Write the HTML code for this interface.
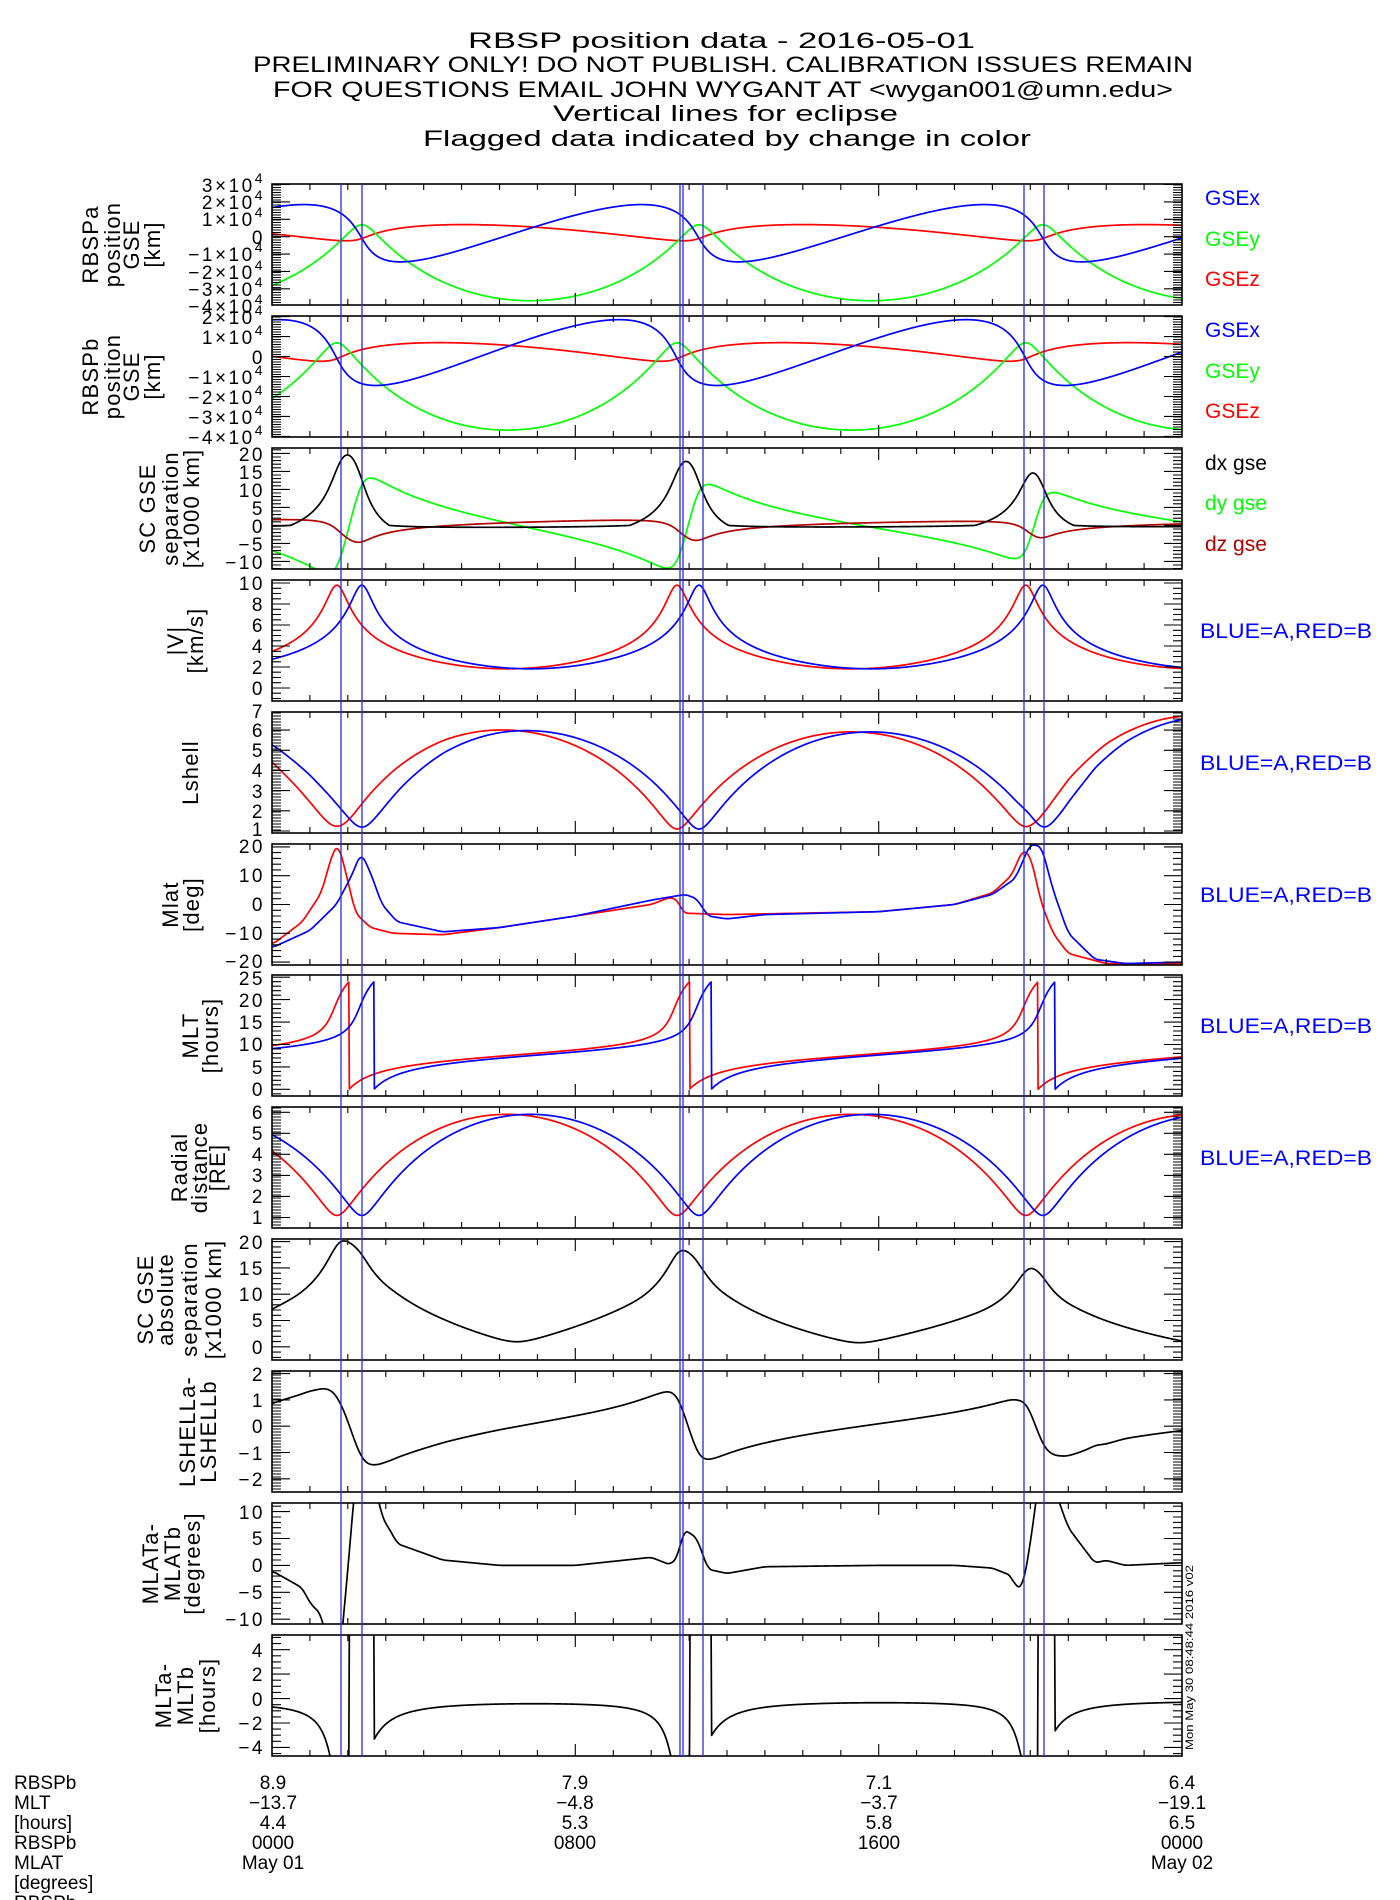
<!DOCTYPE html>
<html><head><meta charset="utf-8">
<style>
html,body{margin:0;padding:0;background:#fff;}
svg{display:block;}
text{font-family:"Liberation Sans",sans-serif;fill:#000;}
.t{font-size:22px;}
.tl{font-size:19px;letter-spacing:2.5px;}
.yl{font-size:22px;letter-spacing:1.2px;}
.rl{font-size:21px;}
.bt{font-size:19px;}
</style></head><body>
<svg id="plot" xmlns="http://www.w3.org/2000/svg" width="1400" height="1900" viewBox="0 0 1400 1900">
<rect x="0" y="0" width="1400" height="1900" fill="#fff"/>
<text class="t" x="468" y="48" textLength="507" lengthAdjust="spacingAndGlyphs">RBSP position data - 2016-05-01</text>
<text class="t" x="253" y="72" textLength="940" lengthAdjust="spacingAndGlyphs">PRELIMINARY ONLY! DO NOT PUBLISH. CALIBRATION ISSUES REMAIN</text>
<text class="t" x="273" y="97" textLength="900" lengthAdjust="spacingAndGlyphs">FOR QUESTIONS EMAIL JOHN WYGANT AT &lt;wygan001@umn.edu&gt;</text>
<text class="t" x="553" y="121" textLength="345" lengthAdjust="spacingAndGlyphs">Vertical lines for eclipse</text>
<text class="t" x="423" y="146" textLength="608" lengthAdjust="spacingAndGlyphs">Flagged data indicated by change in color</text>

<g id="panels"></g>
<g id="ticks"></g>

<g class="tl" text-anchor="end">
<text x="265" y="192">3×10<tspan dy="-9" font-size="14">4</tspan></text>
<text x="265" y="209">2×10<tspan dy="-9" font-size="14">4</tspan></text>
<text x="265" y="226">1×10<tspan dy="-9" font-size="14">4</tspan></text>
<text x="265" y="244">0</text>
<text x="265" y="261">−1×10<tspan dy="-9" font-size="14">4</tspan></text>
<text x="265" y="279">−2×10<tspan dy="-9" font-size="14">4</tspan></text>
<text x="265" y="296">−3×10<tspan dy="-9" font-size="14">4</tspan></text>
<text x="265" y="313">−4×10<tspan dy="-9" font-size="14">4</tspan></text>

<text x="265" y="324">2×10<tspan dy="-9" font-size="14">4</tspan></text>
<text x="265" y="344">1×10<tspan dy="-9" font-size="14">4</tspan></text>
<text x="265" y="364">0</text>
<text x="265" y="384">−1×10<tspan dy="-9" font-size="14">4</tspan></text>
<text x="265" y="404">−2×10<tspan dy="-9" font-size="14">4</tspan></text>
<text x="265" y="424">−3×10<tspan dy="-9" font-size="14">4</tspan></text>
<text x="265" y="444">−4×10<tspan dy="-9" font-size="14">4</tspan></text>

<text x="265" y="461">20</text>
<text x="265" y="479">15</text>
<text x="265" y="497">10</text>
<text x="265" y="515">5</text>
<text x="265" y="533">0</text>
<text x="265" y="551">−5</text>
<text x="265" y="569">−10</text>

<text x="265" y="590">10</text>
<text x="265" y="611">8</text>
<text x="265" y="632">6</text>
<text x="265" y="653">4</text>
<text x="265" y="674">2</text>
<text x="265" y="695">0</text>

<text x="265" y="718">7</text>
<text x="265" y="737">6</text>
<text x="265" y="757">5</text>
<text x="265" y="777">4</text>
<text x="265" y="798">3</text>
<text x="265" y="818">2</text>
<text x="265" y="836">1</text>

<text x="265" y="853">20</text>
<text x="265" y="882">10</text>
<text x="265" y="911">0</text>
<text x="265" y="940">−10</text>
<text x="265" y="968">−20</text>

<text x="265" y="985">25</text>
<text x="265" y="1007">20</text>
<text x="265" y="1029">15</text>
<text x="265" y="1051">10</text>
<text x="265" y="1074">5</text>
<text x="265" y="1096">0</text>

<text x="265" y="1119">6</text>
<text x="265" y="1140">5</text>
<text x="265" y="1161">4</text>
<text x="265" y="1182">3</text>
<text x="265" y="1203">2</text>
<text x="265" y="1224">1</text>

<text x="265" y="1249">20</text>
<text x="265" y="1275">15</text>
<text x="265" y="1301">10</text>
<text x="265" y="1327">5</text>
<text x="265" y="1354">0</text>

<text x="265" y="1381">2</text>
<text x="265" y="1407">1</text>
<text x="265" y="1433">0</text>
<text x="265" y="1460">−1</text>
<text x="265" y="1486">−2</text>

<text x="265" y="1519">10</text>
<text x="265" y="1545">5</text>
<text x="265" y="1572">0</text>
<text x="265" y="1599">−5</text>
<text x="265" y="1626">−10</text>

<text x="265" y="1657">4</text>
<text x="265" y="1681">2</text>
<text x="265" y="1706">0</text>
<text x="265" y="1730">−2</text>
<text x="265" y="1754">−4</text>
</g>

<g class="yl" text-anchor="middle">
<text transform="translate(98,244.5) rotate(-90)">RBSPa</text>
<text transform="translate(120,244.5) rotate(-90)">position</text>
<text transform="translate(139,244.5) rotate(-90)">GSE</text>
<text transform="translate(160,244.5) rotate(-90)">[km]</text>

<text transform="translate(98,376.5) rotate(-90)">RBSPb</text>
<text transform="translate(120,376.5) rotate(-90)">position</text>
<text transform="translate(139,376.5) rotate(-90)">GSE</text>
<text transform="translate(160,376.5) rotate(-90)">[km]</text>

<text transform="translate(155,508.5) rotate(-90)">SC GSE</text>
<text transform="translate(178,508.5) rotate(-90)">separation</text>
<text transform="translate(199,508.5) rotate(-90)">[x1000 km]</text>

<text transform="translate(183,640.5) rotate(-90)">|V|</text>
<text transform="translate(203,640.5) rotate(-90)">[km/s]</text>

<text transform="translate(198,772.5) rotate(-90)">Lshell</text>

<text transform="translate(178,904.5) rotate(-90)">Mlat</text>
<text transform="translate(199,904.5) rotate(-90)">[deg]</text>

<text transform="translate(198,1035.5) rotate(-90)">MLT</text>
<text transform="translate(218,1035.5) rotate(-90)">[hours]</text>

<text transform="translate(187,1167.5) rotate(-90)">Radial</text>
<text transform="translate(207,1167.5) rotate(-90)">distance</text>
<text transform="translate(225,1167.5) rotate(-90)">[RE]</text>

<text transform="translate(153,1299.5) rotate(-90)">SC GSE</text>
<text transform="translate(173,1299.5) rotate(-90)">absolute</text>
<text transform="translate(197,1299.5) rotate(-90)">separation</text>
<text transform="translate(221,1299.5) rotate(-90)">[x1000 km]</text>

<text transform="translate(195,1431.5) rotate(-90)">LSHELLa-</text>
<text transform="translate(216,1431.5) rotate(-90)">LSHELLb</text>

<text transform="translate(158,1563.5) rotate(-90)">MLATa-</text>
<text transform="translate(180,1563.5) rotate(-90)">MLATb</text>
<text transform="translate(200,1563.5) rotate(-90)">[degrees]</text>

<text transform="translate(171,1695.5) rotate(-90)">MLTa-</text>
<text transform="translate(193,1695.5) rotate(-90)">MLTb</text>
<text transform="translate(215,1695.5) rotate(-90)">[hours]</text>
</g>

<g class="rl">
<text x="1205" y="205" style="fill:#0000ff">GSEx</text>
<text x="1205" y="246" style="fill:#00ff00">GSEy</text>
<text x="1205" y="286" style="fill:#ff0000">GSEz</text>
<text x="1205" y="337" style="fill:#0000ff">GSEx</text>
<text x="1205" y="378" style="fill:#00ff00">GSEy</text>
<text x="1205" y="418" style="fill:#ff0000">GSEz</text>
<text x="1205" y="470" style="fill:#000">dx gse</text>
<text x="1205" y="510" style="fill:#00ff00">dy gse</text>
<text x="1205" y="551" style="fill:#b00000">dz gse</text>
<text x="1200" y="638" textLength="172" lengthAdjust="spacingAndGlyphs" style="fill:#0000ff">BLUE=A,RED=B</text>
<text x="1200" y="770" textLength="172" lengthAdjust="spacingAndGlyphs" style="fill:#0000ff">BLUE=A,RED=B</text>
<text x="1200" y="902" textLength="172" lengthAdjust="spacingAndGlyphs" style="fill:#0000ff">BLUE=A,RED=B</text>
<text x="1200" y="1033" textLength="172" lengthAdjust="spacingAndGlyphs" style="fill:#0000ff">BLUE=A,RED=B</text>
<text x="1200" y="1165" textLength="172" lengthAdjust="spacingAndGlyphs" style="fill:#0000ff">BLUE=A,RED=B</text>
</g>

<text transform="translate(1193,1750) rotate(-90)" font-size="11" textLength="185" lengthAdjust="spacingAndGlyphs">Mon May 30 08:48:44 2016 v02</text>

<g class="bt">
<text x="14" y="1789">RBSPb</text>
<text x="14" y="1809">MLT</text>
<text x="14" y="1829">[hours]</text>
<text x="14" y="1849">RBSPb</text>
<text x="14" y="1869">MLAT</text>
<text x="14" y="1889">[degrees]</text>
<text x="14" y="1909">RBSPb</text>
</g>
<g class="bt" text-anchor="middle">
<text x="273" y="1789">8.9</text>
<text x="273" y="1809">−13.7</text>
<text x="273" y="1829">4.4</text>
<text x="273" y="1849">0000</text>
<text x="273" y="1869">May 01</text>
<text x="575" y="1789">7.9</text>
<text x="575" y="1809">−4.8</text>
<text x="575" y="1829">5.3</text>
<text x="575" y="1849">0800</text>
<text x="879" y="1789">7.1</text>
<text x="879" y="1809">−3.7</text>
<text x="879" y="1829">5.8</text>
<text x="879" y="1849">1600</text>
<text x="1182" y="1789">6.4</text>
<text x="1182" y="1809">−19.1</text>
<text x="1182" y="1829">6.5</text>
<text x="1182" y="1849">0000</text>
<text x="1182" y="1869">May 02</text>
</g>

<g id="eclipse" stroke="#2a2ae0" stroke-width="1.3">
<line x1="341" y1="184" x2="341" y2="1757"/>
<line x1="362" y1="184" x2="362" y2="1757"/>
<line x1="680" y1="184" x2="680" y2="1757"/>
<line x1="683" y1="184" x2="683" y2="1757"/>
<line x1="703" y1="184" x2="703" y2="1757"/>
<line x1="1024" y1="184" x2="1024" y2="1757"/>
<line x1="1044" y1="184" x2="1044" y2="1757"/>
</g>
</svg>
<script>
(function(){
const NS='http://www.w3.org/2000/svg';
const X0=272,W=910,H=121;
const tops=[184,316,448,580,712,844,975,1107,1239,1371,1503,1635];
const ranges=[[-3.93e4,3.03e4],[-4.03e4,2.03e4],[-12.1,21.5],[-1.24,10.29],[0.9,6.9],[-21,21],[-1.5,25.5],[0.5,6.25],[-2.5,20.5],[-2.5,2.1],[-10.9,11.6],[-4.7,5.2]];
const panelsG=document.getElementById('panels');
const ticksG=document.getElementById('ticks');
function el(tag,at,par){const e=document.createElementNS(NS,tag);for(const k in at)e.setAttribute(k,at[k]);if(par)par.appendChild(e);return e;}
const psv=[];
for(let i=0;i<12;i++){psv.push(el('svg',{x:X0,y:tops[i],width:W,height:H,overflow:'hidden'},panelsG));}
function Y(i,v){const r=ranges[i];return tops[i]+(r[1]-v)/(r[1]-r[0])*H;}
function plot(i,ts,vs,color,w){
  const r=ranges[i];let d='';
  for(let k=0;k<ts.length;k++){
    const x=ts[k]/24*W;let y=(r[1]-vs[k])/(r[1]-r[0])*H;
    if(!isFinite(y))continue;
    y=Math.max(-8,Math.min(H+8,y));
    d+=(k?'L':'M')+x.toFixed(2)+' '+y.toFixed(2);
  }
  el('path',{d:d,fill:'none',stroke:color,'stroke-width':w||1.7,'stroke-linejoin':'round'},psv[i]);
}
const RE=6371,a=3.5,e=0.686,b=a*Math.sqrt(1-e*e),mu=398600;
const tpA=[-6.6,2.37,11.26,20.33,29.3],tpB=[-7.3,1.71,10.68,19.88,28.9];
function orb(t,tp){
  let i=0;while(t>=tp[i+1])i++;
  const M=2*Math.PI*(t-tp[i])/(tp[i+1]-tp[i]);
  let E=Math.PI;
  for(let k=0;k<60;k++){E=E-(E-e*Math.sin(E)-M)/(1-e*Math.cos(E));}
  const xp=a*(Math.cos(E)-e),yp=b*Math.sin(E),r=a*(1-e*Math.cos(E));
  const P=[-0.13,0.98,-0.15],Q=[-1.0,0.0,0.2];
  const pos=[0,1,2].map(j=>(P[j]*xp+Q[j]*yp)*RE);
  const v=Math.sqrt(mu*(2/(r*RE)-1/(a*RE)));
  let mlt=(13+Math.atan2(pos[1],pos[0])*12/Math.PI);
  mlt=((mlt%24)+24)%24;
  return {pos,r,v,mlt};
}
function interp(kp,t){
  for(let i=0;i<kp.length-1;i++){
    if(t<=kp[i+1][0]){const f=(t-kp[i][0])/(kp[i+1][0]-kp[i][0]);return kp[i][1]+f*(kp[i+1][1]-kp[i][1]);}
  }
  return kp[kp.length-1][1];
}
function smooth(arr,n){
  return arr.map((v,k)=>{let s=0,c=0;for(let j=-n;j<=n;j++){const q=k+j;if(q>=0&&q<arr.length){s+=arr[q];c++;}}return s/c;});
}
const mlB=[[0,-14],[0.8,-6],[1.3,4],[1.6,18],[1.75,21],[1.95,11],[2.2,-3],[2.6,-8],[3.2,-10],[4.5,-10.5],[6,-8],[8,-4],[10,0],[10.5,2.5],[10.7,1.5],[10.85,-3],[12,-3.5],[16,-2.5],[18,0],[19,4],[19.5,10],[19.8,19],[20.0,17],[20.3,0],[20.6,-10],[21,-17],[22,-20.5],[24,-20.5]];
const mlA=[[0,-15],[1,-9],[1.7,0],[2.1,10],[2.35,18],[2.6,11],[2.9,0],[3.3,-6],[4.5,-9.5],[6,-8],[8,-4],[10,1.5],[10.9,3.5],[11.2,2],[11.5,-4],[12,-5],[13,-3.5],[16,-2.5],[18,0],[19,3.5],[19.6,9],[20.0,21],[20.3,20],[20.6,5],[21,-10],[21.7,-19],[22.5,-20.5],[24,-20]];
const ts=[];for(let t=0;t<=24.0001;t+=0.015)ts.push(t);
const A=ts.map(t=>orb(t,tpA)),B=ts.map(t=>orb(t,tpB));
const mA=smooth(ts.map(t=>interp(mlA,t)),7),mB=smooth(ts.map(t=>interp(mlB,t)),7);
const rad=Math.PI/180;
const LA=A.map((o,k)=>o.r/Math.pow(Math.cos(mA[k]*rad),2));
const LB=B.map((o,k)=>o.r/Math.pow(Math.cos(mB[k]*rad),2));
[[0,A],[1,B]].forEach(([p,S])=>{
  plot(p,ts,S.map(o=>o.pos[2]),'#ff0000');
  plot(p,ts,S.map(o=>o.pos[1]),'#00ff00');
  plot(p,ts,S.map(o=>o.pos[0]),'#0000ff');
});
const dx=A.map((o,k)=>{const v=(o.pos[0]-B[k].pos[0])/1000;return v>0?v:v*0.12;});
const dy=A.map((o,k)=>(o.pos[1]-B[k].pos[1])/1000);
const dz=A.map((o,k)=>(o.pos[2]-B[k].pos[2])/1000);
plot(2,ts,dy,'#00ff00');
plot(2,ts,dz,'#b00000');
plot(2,ts,dx,'#000000');
plot(3,ts,B.map(o=>o.v),'#ff0000');plot(3,ts,A.map(o=>o.v),'#0000ff');
plot(4,ts,LB,'#ff0000');plot(4,ts,LA,'#0000ff');
plot(5,ts,mB,'#ff0000');plot(5,ts,mA,'#0000ff');
plot(6,ts,B.map(o=>o.mlt),'#ff0000');plot(6,ts,A.map(o=>o.mlt),'#0000ff');
plot(7,ts,B.map(o=>o.r),'#ff0000');plot(7,ts,A.map(o=>o.r),'#0000ff');
plot(8,ts,dx.map((v,k)=>Math.hypot(v,dy[k],dz[k])),'#000');
plot(9,ts,LA.map((v,k)=>v-LB[k]),'#000');
plot(10,ts,mA.map((v,k)=>v-mB[k]),'#000');
plot(11,ts,A.map((o,k)=>o.mlt-B[k].mlt),'#000');

const spec=[
 {maj:[3e4,2e4,1e4,0,-1e4,-2e4,-3e4,-4e4],comb:2.5},
 {maj:[2e4,1e4,0,-1e4,-2e4,-3e4,-4e4],comb:2.5},
 {maj:[-10,-5,0,5,10,15,20],minor:1},
 {maj:[0,2,4,6,8,10],minor:0.5},
 {maj:[1,2,3,4,5,6,7],comb:3},
 {maj:[-20,-10,0,10,20],minor:2},
 {maj:[0,5,10,15,20,25],minor:1},
 {maj:[1,2,3,4,5,6],comb:3},
 {maj:[0,5,10,15,20],minor:1},
 {maj:[-2,-1,0,1,2],comb:3},
 {maj:[-10,-5,0,5,10],minor:1},
 {maj:[-4,-2,0,2,4],minor:0.5}
];
let d='';
const XR=X0+W;
for(let i=0;i<12;i++){
  const top=tops[i],bot=top+H,s=spec[i],r=ranges[i];
  function tk(y,len){if(y<top-0.5||y>bot+0.5)return;d+='M'+X0+' '+y.toFixed(1)+'h'+len+'M'+XR+' '+y.toFixed(1)+'h'+(-len);}
  if(s.comb){for(let y=bot;y>=top;y-=s.comb)tk(y,9);}
  else{const st=s.minor;for(let v=Math.ceil(r[0]/st)*st;v<=r[1]+1e-9;v+=st)tk(Y(i,v),9);}
  s.maj.forEach(v=>tk(Y(i,v),18));
  for(let h=1;h<24;h++){
    const x=X0+h/24*W;const len=(h%8===0)?12:6;
    d+='M'+x.toFixed(1)+' '+bot+'v'+(-len)+'M'+x.toFixed(1)+' '+top+'v'+len;
  }
  el('rect',{x:X0,y:top,width:W,height:H,fill:'none',stroke:'#000','stroke-width':1.6},ticksG);
}
el('path',{d:d,stroke:'#000','stroke-width':1.1,fill:'none'},ticksG);
})();
</script>
</body></html>
